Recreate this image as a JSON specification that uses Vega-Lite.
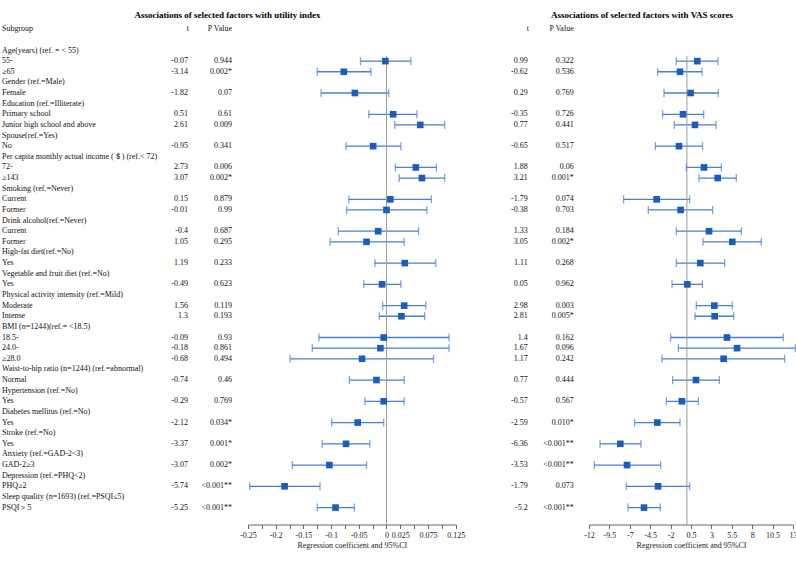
{
  "$schema": "https://vega.github.io/schema/vega-lite/v6.json",
  "background": "white",
  "padding": {"left": 0, "top": 10.5, "right": 0, "bottom": 0},
  "bounds": "flush",
  "spacing": 0,
  "config": {
    "view": {"stroke": null},
    "font": "Liberation Serif",
    "text": {"font": "Liberation Serif", "fontSize": 8, "color": "#111"},
    "axis": {"labelOverlap": false, "labelBound": false, "labelFlush": false, "tickCount": 100}
  },
  "datasets": {
    "rows": [
      {"row": 1, "label": "Age(years) (ref. = < 55)"},
      {"row": 2, "label": "\u00a055-", "t_u": "-0.07", "p_u": "0.944", "est_u": -0.002, "lo_u": -0.047, "hi_u": 0.044, "t_v": "0.99", "p_v": "0.322", "est_v": 1.27, "lo_v": -1.3, "hi_v": 3.81},
      {"row": 3, "label": "≥65", "t_u": "-3.14", "p_u": "0.002*", "est_u": -0.077, "lo_u": -0.125, "hi_u": -0.028, "t_v": "-0.62", "p_v": "0.536", "est_v": -0.85, "lo_v": -3.59, "hi_v": 1.85},
      {"row": 4, "label": "Gender (ref.=Male)"},
      {"row": 5, "label": "Female", "t_u": "-1.82", "p_u": "0.07", "est_u": -0.057, "lo_u": -0.118, "hi_u": 0.004, "t_v": "0.29", "p_v": "0.769", "est_v": 0.45, "lo_v": -2.81, "hi_v": 3.85},
      {"row": 6, "label": "Education (ref.=Illiterate)"},
      {"row": 7, "label": "Primary school", "t_u": "0.51", "p_u": "0.61", "est_u": 0.012, "lo_u": -0.032, "hi_u": 0.055, "t_v": "-0.35", "p_v": "0.726", "est_v": -0.48, "lo_v": -2.98, "hi_v": 2.05},
      {"row": 8, "label": "Junior high school and above", "t_u": "2.61", "p_u": "0.009", "est_u": 0.061, "lo_u": 0.015, "hi_u": 0.105, "t_v": "0.77", "p_v": "0.441", "est_v": 0.99, "lo_v": -1.54, "hi_v": 3.57},
      {"row": 9, "label": "Spouse(ref.=Yes)"},
      {"row": 10, "label": "No", "t_u": "-0.95", "p_u": "0.341", "est_u": -0.024, "lo_u": -0.073, "hi_u": 0.026, "t_v": "-0.65", "p_v": "0.517", "est_v": -0.97, "lo_v": -3.87, "hi_v": 1.92},
      {"row": 11, "label": "Per capita monthly actual income (＄) (ref.< 72)"},
      {"row": 12, "label": "\u00a072-", "t_u": "2.73", "p_u": "0.006", "est_u": 0.053, "lo_u": 0.016, "hi_u": 0.09, "t_v": "1.88", "p_v": "0.06", "est_v": 2.09, "lo_v": -0.07, "hi_v": 4.22},
      {"row": 13, "label": "≥143", "t_u": "3.07", "p_u": "0.002*", "est_u": 0.064, "lo_u": 0.023, "hi_u": 0.105, "t_v": "3.21", "p_v": "0.001*", "est_v": 3.77, "lo_v": 1.48, "hi_v": 6.05},
      {"row": 14, "label": "Smoking (ref.=Never)"},
      {"row": 15, "label": "Current", "t_u": "0.15", "p_u": "0.879", "est_u": 0.007, "lo_u": -0.068, "hi_u": 0.081, "t_v": "-1.79", "p_v": "0.074", "est_v": -3.71, "lo_v": -7.76, "hi_v": 0.33},
      {"row": 16, "label": "Former", "t_u": "-0.01", "p_u": "0.99", "est_u": 0.0, "lo_u": -0.072, "hi_u": 0.073, "t_v": "-0.38", "p_v": "0.703", "est_v": -0.77, "lo_v": -4.73, "hi_v": 3.15},
      {"row": 17, "label": "Drink alcohol(ref.=Never)"},
      {"row": 18, "label": "Current", "t_u": "-0.4", "p_u": "0.687", "est_u": -0.015, "lo_u": -0.087, "hi_u": 0.058, "t_v": "1.33", "p_v": "0.184", "est_v": 2.71, "lo_v": -1.3, "hi_v": 6.67},
      {"row": 19, "label": "Former", "t_u": "1.05", "p_u": "0.295", "est_u": -0.036, "lo_u": -0.102, "hi_u": 0.032, "t_v": "3.05", "p_v": "0.002*", "est_v": 5.56, "lo_v": 1.97, "hi_v": 9.12},
      {"row": 20, "label": "High-fat diet(ref.=No)"},
      {"row": 21, "label": "Yes", "t_u": "1.19", "p_u": "0.233", "est_u": 0.033, "lo_u": -0.021, "hi_u": 0.089, "t_v": "1.11", "p_v": "0.268", "est_v": 1.64, "lo_v": -1.3, "hi_v": 4.62},
      {"row": 22, "label": "Vegetable and fruit diet (ref.=No)"},
      {"row": 23, "label": "Yes", "t_u": "-0.49", "p_u": "0.623", "est_u": -0.008, "lo_u": -0.041, "hi_u": 0.026, "t_v": "0.05", "p_v": "0.962", "est_v": 0.05, "lo_v": -1.83, "hi_v": 1.89},
      {"row": 24, "label": "Physical activity intensity (ref.=Mild)"},
      {"row": 25, "label": "Moderate", "t_u": "1.56", "p_u": "0.119", "est_u": 0.032, "lo_u": -0.007, "hi_u": 0.071, "t_v": "2.98", "p_v": "0.003", "est_v": 3.36, "lo_v": 1.15, "hi_v": 5.56},
      {"row": 26, "label": "Intense", "t_u": "1.3", "p_u": "0.193", "est_u": 0.027, "lo_u": -0.013, "hi_u": 0.069, "t_v": "2.81", "p_v": "0.005*", "est_v": 3.4, "lo_v": 0.99, "hi_v": 5.72},
      {"row": 27, "label": "BMI (n=1244)(ref.= <18.5)"},
      {"row": 28, "label": "\u00a018.5-", "t_u": "-0.09", "p_u": "0.93", "est_u": -0.005, "lo_u": -0.122, "hi_u": 0.113, "t_v": "1.4", "p_v": "0.162", "est_v": 4.91, "lo_v": -2.0, "hi_v": 11.81},
      {"row": 29, "label": "\u00a024.0-", "t_u": "-0.18", "p_u": "0.861", "est_u": -0.011, "lo_u": -0.134, "hi_u": 0.113, "t_v": "1.67", "p_v": "0.096", "est_v": 6.14, "lo_v": -1.05, "hi_v": 13.3},
      {"row": 30, "label": "≥28.0", "t_u": "-0.68", "p_u": "0.494", "est_u": -0.044, "lo_u": -0.174, "hi_u": 0.085, "t_v": "1.17", "p_v": "0.242", "est_v": 4.5, "lo_v": -3.05, "hi_v": 11.97},
      {"row": 31, "label": "Waist-to-hip ratio (n=1244) (ref.=abnormal)"},
      {"row": 32, "label": "Normal", "t_u": "-0.74", "p_u": "0.46", "est_u": -0.018, "lo_u": -0.067, "hi_u": 0.032, "t_v": "0.77", "p_v": "0.444", "est_v": 1.11, "lo_v": -1.75, "hi_v": 3.97},
      {"row": 33, "label": "Hypertension (ref.=No)"},
      {"row": 34, "label": "Yes", "t_u": "-0.29", "p_u": "0.769", "est_u": -0.005, "lo_u": -0.039, "hi_u": 0.032, "t_v": "-0.57", "p_v": "0.567", "est_v": -0.61, "lo_v": -2.52, "hi_v": 1.4},
      {"row": 35, "label": "Diabetes mellitus (ref.=No)"},
      {"row": 36, "label": "Yes", "t_u": "-2.12", "p_u": "0.034*", "est_u": -0.052, "lo_u": -0.099, "hi_u": -0.005, "t_v": "-2.59", "p_v": "0.010*", "est_v": -3.63, "lo_v": -6.41, "hi_v": -0.85},
      {"row": 37, "label": "Stroke (ref.=No)"},
      {"row": 38, "label": "\u00a0Yes", "t_u": "-3.37", "p_u": "0.001*", "est_u": -0.073, "lo_u": -0.116, "hi_u": -0.03, "t_v": "-6.36", "p_v": "<0.001**", "est_v": -8.16, "lo_v": -10.65, "hi_v": -5.63},
      {"row": 39, "label": "Anxiety (ref.=GAD-2<3)"},
      {"row": 40, "label": "GAD-2≥3", "t_u": "-3.07", "p_u": "0.002*", "est_u": -0.103, "lo_u": -0.17, "hi_u": -0.036, "t_v": "-3.53", "p_v": "<0.001**", "est_v": -7.34, "lo_v": -11.35, "hi_v": -3.22},
      {"row": 41, "label": "Depression (ref.=PHQ<2)"},
      {"row": 42, "label": "PHQ≥2", "t_u": "-5.74", "p_u": "<0.001**", "est_u": -0.184, "lo_u": -0.247, "hi_u": -0.12, "t_v": "-1.79", "p_v": "0.073", "est_v": -3.54, "lo_v": -7.43, "hi_v": 0.33},
      {"row": 43, "label": "Sleep quality (n=1693) (ref.=PSQI≤5)"},
      {"row": 44, "label": "PSQI＞5", "t_u": "-5.25", "p_u": "<0.001**", "est_u": -0.092, "lo_u": -0.125, "hi_u": -0.058, "t_v": "-5.2", "p_v": "<0.001**", "est_v": -5.26, "lo_v": -7.22, "hi_v": -3.26}
    ]
  },
  "hconcat": [
    {
      "title": {"text": "Associations of selected factors with utility index", "font": "Liberation Serif", "fontSize": 9, "fontWeight": "bold", "anchor": "middle", "dx": 103.9, "offset": 4, "color": "#000"},
      "width": 247.3,
      "height": 501,
      "data": {"name": "rows"},
      "layer": [
        {
          "mark": {"type": "text", "align": "left", "baseline": "middle"},
          "encoding": {
            "y": {"field": "row", "type": "quantitative", "scale": {"domain": [-1.54, 45.59], "reverse": true, "nice": false, "zero": false}, "axis": null},
            "x": {"value": 2},
            "text": {"field": "label", "type": "nominal"}
          }
        },
        {
          "transform": [{"filter": "datum.t_u != null"}],
          "mark": {"type": "text", "align": "right", "baseline": "middle"},
          "encoding": {
            "y": {"field": "row", "type": "quantitative"},
            "x": {"value": 188},
            "text": {"field": "t_u", "type": "nominal"}
          }
        },
        {
          "transform": [{"filter": "datum.t_u != null"}],
          "mark": {"type": "text", "align": "right", "baseline": "middle"},
          "encoding": {
            "y": {"field": "row", "type": "quantitative"},
            "x": {"value": 232},
            "text": {"field": "p_u", "type": "nominal"}
          }
        },
        {
          "data": {"values": [{"h": "Subgroup"}]},
          "mark": {"type": "text", "align": "left", "baseline": "middle"},
          "encoding": {"y": {"datum": -1, "type": "quantitative"}, "x": {"value": 2}, "text": {"field": "h", "type": "nominal"}}
        },
        {
          "data": {"values": [{"h": "t"}]},
          "mark": {"type": "text", "align": "right", "baseline": "middle"},
          "encoding": {"y": {"datum": -1, "type": "quantitative"}, "x": {"value": 189}, "text": {"field": "h", "type": "nominal"}}
        },
        {
          "data": {"values": [{"h": "P Value"}]},
          "mark": {"type": "text", "align": "right", "baseline": "middle"},
          "encoding": {"y": {"datum": -1, "type": "quantitative"}, "x": {"value": 232}, "text": {"field": "h", "type": "nominal"}}
        }
      ]
    },
    {
      "width": 207.7,
      "height": 501,
      "data": {"name": "rows"},
      "layer": [
        {
          "transform": [{"filter": "datum.est_u != null"}],
          "mark": {"type": "rule", "color": "#4a7fcf", "strokeWidth": 1.3},
          "encoding": {
            "y": {"field": "row", "type": "quantitative", "scale": {"domain": [-1.54, 45.59], "reverse": true, "nice": false, "zero": false}, "axis": null},
            "x": {"field": "lo_u", "type": "quantitative", "scale": {"domain": [-0.25, 0.125], "nice": false, "zero": false},
              "axis": {"values": [-0.25, -0.225, -0.2, -0.175, -0.15, -0.125, -0.1, -0.075, -0.05, -0.025, 0, 0.025, 0.05, 0.075, 0.1, 0.125],
                "tickCount": 100,
                "labelExpr": "indexof([-0.25, -0.2, -0.15, -0.1, -0.05, 0, 0.025, 0.075, 0.125], datum.value) >= 0 ? '' + datum.value : ''",
                "title": "Regression coefficient and 95%CI", "grid": false, "domainColor": "#666", "tickColor": "#666", "tickSize": 4,
                "labelFont": "Liberation Serif", "labelFontSize": 8, "labelColor": "#222", "labelPadding": 3, "labelOverlap": false, "labelFlush": false,
                "titleFont": "Liberation Serif", "titleFontSize": 8, "titleFontWeight": "normal", "titleColor": "#222", "titlePadding": 2}},
            "x2": {"field": "hi_u"}
          }
        },
        {
          "data": {"values": [{"z": 0}]},
          "mark": {"type": "rule", "color": "#9a9a9a", "strokeWidth": 1},
          "encoding": {"x": {"field": "z", "type": "quantitative"}, "y": {"datum": 1.5, "type": "quantitative"}, "y2": {"datum": 45.59}}
        },
        {
          "transform": [{"filter": "datum.est_u != null"}],
          "mark": {"type": "tick", "orient": "vertical", "size": 8, "thickness": 1.3, "color": "#4a7fcf"},
          "encoding": {"y": {"field": "row", "type": "quantitative"}, "x": {"field": "lo_u", "type": "quantitative"}}
        },
        {
          "transform": [{"filter": "datum.est_u != null"}],
          "mark": {"type": "tick", "orient": "vertical", "size": 8, "thickness": 1.3, "color": "#4a7fcf"},
          "encoding": {"y": {"field": "row", "type": "quantitative"}, "x": {"field": "hi_u", "type": "quantitative"}}
        },
        {
          "transform": [{"filter": "datum.est_u != null"}],
          "mark": {"type": "square", "size": 44, "filled": true, "opacity": 1, "color": "#1d5cb9"},
          "encoding": {"y": {"field": "row", "type": "quantitative"}, "x": {"field": "est_u", "type": "quantitative"}}
        }
      ]
    },
    {
      "title": {"text": "Associations of selected factors with VAS scores", "font": "Liberation Serif", "fontSize": 9, "fontWeight": "bold", "anchor": "middle", "dx": 119.7, "offset": 4, "color": "#000"},
      "width": 132.7,
      "height": 501,
      "data": {"name": "rows"},
      "layer": [
        {
          "transform": [{"filter": "datum.t_v != null"}],
          "mark": {"type": "text", "align": "right", "baseline": "middle"},
          "encoding": {
            "y": {"field": "row", "type": "quantitative", "scale": {"domain": [-1.54, 45.59], "reverse": true, "nice": false, "zero": false}, "axis": null},
            "x": {"value": 71.7},
            "text": {"field": "t_v", "type": "nominal"}
          }
        },
        {
          "transform": [{"filter": "datum.t_v != null"}],
          "mark": {"type": "text", "align": "right", "baseline": "middle"},
          "encoding": {
            "y": {"field": "row", "type": "quantitative"},
            "x": {"value": 117.7},
            "text": {"field": "p_v", "type": "nominal"}
          }
        },
        {
          "data": {"values": [{"h": "t"}]},
          "mark": {"type": "text", "align": "right", "baseline": "middle"},
          "encoding": {"y": {"datum": -1, "type": "quantitative"}, "x": {"value": 73}, "text": {"field": "h", "type": "nominal"}}
        },
        {
          "data": {"values": [{"h": "P Value"}]},
          "mark": {"type": "text", "align": "right", "baseline": "middle"},
          "encoding": {"y": {"datum": -1, "type": "quantitative"}, "x": {"value": 117.7}, "text": {"field": "h", "type": "nominal"}}
        }
      ]
    },
    {
      "width": 204,
      "height": 501,
      "data": {"name": "rows"},
      "layer": [
        {
          "transform": [{"filter": "datum.est_v != null"}],
          "mark": {"type": "rule", "color": "#4a7fcf", "strokeWidth": 1.3},
          "encoding": {
            "y": {"field": "row", "type": "quantitative", "scale": {"domain": [-1.54, 45.59], "reverse": true, "nice": false, "zero": false}, "axis": null},
            "x": {"field": "lo_v", "type": "quantitative", "scale": {"domain": [-12, 13], "nice": false, "zero": false},
              "axis": {"values": [-12, -9.5, -7, -4.5, -2, 0.5, 3, 5.5, 8, 10.5, 13],
                "tickCount": 100,
                "labelExpr": "'' + datum.value",
                "title": "Regression coefficient and 95%CI", "grid": false, "domainColor": "#666", "tickColor": "#666", "tickSize": 4,
                "labelFont": "Liberation Serif", "labelFontSize": 8, "labelColor": "#222", "labelPadding": 3, "labelOverlap": false, "labelFlush": false,
                "titleFont": "Liberation Serif", "titleFontSize": 8, "titleFontWeight": "normal", "titleColor": "#222", "titlePadding": 2}},
            "x2": {"field": "hi_v"}
          }
        },
        {
          "data": {"values": [{"z": 0}]},
          "mark": {"type": "rule", "color": "#9a9a9a", "strokeWidth": 1},
          "encoding": {"x": {"field": "z", "type": "quantitative"}, "y": {"datum": 1.5, "type": "quantitative"}, "y2": {"datum": 45.59}}
        },
        {
          "transform": [{"filter": "datum.est_v != null"}],
          "mark": {"type": "tick", "orient": "vertical", "size": 8, "thickness": 1.3, "color": "#4a7fcf"},
          "encoding": {"y": {"field": "row", "type": "quantitative"}, "x": {"field": "lo_v", "type": "quantitative"}}
        },
        {
          "transform": [{"filter": "datum.est_v != null"}],
          "mark": {"type": "tick", "orient": "vertical", "size": 8, "thickness": 1.3, "color": "#4a7fcf"},
          "encoding": {"y": {"field": "row", "type": "quantitative"}, "x": {"field": "hi_v", "type": "quantitative"}}
        },
        {
          "transform": [{"filter": "datum.est_v != null"}],
          "mark": {"type": "square", "size": 44, "filled": true, "opacity": 1, "color": "#1d5cb9"},
          "encoding": {"y": {"field": "row", "type": "quantitative"}, "x": {"field": "est_v", "type": "quantitative"}}
        }
      ]
    }
  ]
}
